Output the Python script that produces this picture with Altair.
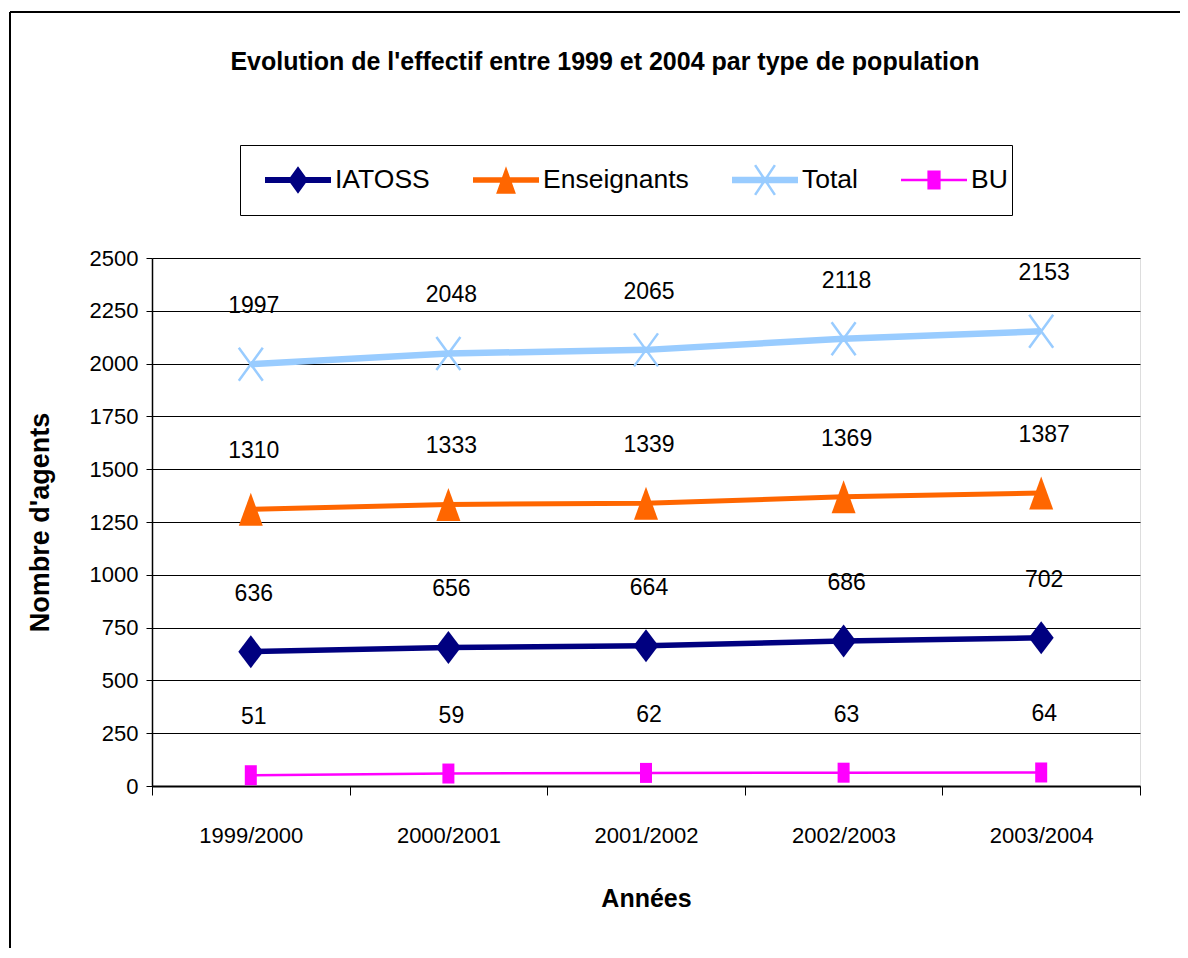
import altair as alt
import pandas as pd

# ---- data -------------------------------------------------------------
years = ["1999/2000", "2000/2001", "2001/2002", "2002/2003", "2003/2004"]
series = ["IATOSS", "Enseignants", "Total", "BU"]
iatoss = [636, 656, 664, 686, 702]
enseignants = [1310, 1333, 1339, 1369, 1387]
total = [1997, 2048, 2065, 2118, 2153]
bu = [51, 59, 62, 63, 64]
y_ticks = [0, 250, 500, 750, 1000, 1250, 1500, 1750, 2000, 2250, 2500]

colors = ["#000080", "#FF6600", "#99CCFF", "#FF00FF"]
line_widths = [5.5, 5, 6.5, 2.5]

rows = []
for s, vals in zip(series, [iatoss, enseignants, total, bu]):
    for yr, v in zip(years, vals):
        rows.append({"annee": yr, "serie": s, "valeur": v})
df = pd.DataFrame(rows)

FONT = "Liberation Sans, Arial, sans-serif"

# marker shapes in the plot (unit = 10 px with size 400)
marker_paths = {
    "IATOSS": "M0,-1.65L1.25,0L0,1.65L-1.25,0Z",
    "Enseignants": "M0,-1.65L1.2,1.65L-1.2,1.65Z",
    "Total": "M-1.2,-1.65L1.2,1.65M1.2,-1.65L-1.2,1.65",
    "BU": "M-0.6,-1L0.6,-1L0.6,1L-0.6,1Z",
}
marker_filled = {"IATOSS": True, "Enseignants": True, "Total": False, "BU": True}

# legend symbols: line + marker (unit = 33 px with size 4356)
legend_paths = [
    "M-1,-0.09L1,-0.09L1,0.09L-1,0.09ZM0,-0.42L0.3,0L0,0.42L-0.3,0Z",
    "M-1,-0.085L1,-0.085L1,0.085L-1,0.085ZM0,-0.42L0.3,0.42L-0.3,0.42Z",
    "M-1,-0.1L-1,0.1L1,0.1L1,-0.1Z"
    "M-0.332,-0.429L0.268,0.471L0.332,0.429L-0.268,-0.471Z"
    "M0.268,-0.471L-0.332,0.429L-0.268,0.471L0.332,-0.429Z",
    "M-1,-0.04L1,-0.04L1,0.04L-1,0.04ZM-0.2,-0.29L0.2,-0.29L0.2,0.29L-0.2,0.29Z",
]

x_enc = alt.X(
    "annee:N",
    sort=years,
    bandPosition=0.5,
    scale=alt.Scale(type="band", domain=years, paddingInner=0, paddingOuter=0),
    axis=alt.Axis(
        title="Années",
        tickBand="extent",
        grid=False,
        labelFont=FONT,
        labelFontSize=22,
        labelColor="black",
        labelPadding=30,
        labelAngle=0,
        tickSize=9,
        tickColor="black",
        domainColor="black",
        domainWidth=2,
        titleFont=FONT,
        titleFontSize=25,
        titleFontWeight="bold",
        titleColor="black",
        titlePadding=40,
    ),
)
y_enc = alt.Y(
    "valeur:Q",
    scale=alt.Scale(domain=[0, 2500], nice=False),
    axis=alt.Axis(
        title="Nombre d'agents",
        values=y_ticks,
        format="d",
        grid=True,
        gridColor="black",
        gridWidth=1,
        labelFont=FONT,
        labelFontSize=22,
        labelColor="black",
        labelPadding=8,
        tickSize=6,
        tickColor="black",
        domainColor="black",
        domainWidth=1.5,
        titleFont=FONT,
        titleFontSize=27,
        titleFontWeight="bold",
        titleColor="black",
        titlePadding=35,
    ),
)

color_scale = alt.Scale(domain=series, range=colors)

line_layers = []
point_layers = []
for s, c, w in zip(series, colors, line_widths):
    base = alt.Chart(df).transform_filter(alt.datum.serie == s)
    line_layers.append(
        base.mark_line(color=c, strokeWidth=w).encode(x=x_enc, y=y_enc)
    )
    filled = marker_filled[s]
    point_layers.append(
        base.mark_point(
            shape=marker_paths[s],
            size=400,
            filled=filled,
            color=c,
            opacity=1,
            strokeWidth=0 if filled else 2.5,
        ).encode(x=x_enc, y=y_enc)
    )

labels = alt.Chart(df).mark_text(
    font=FONT, fontSize=23, color="black", dy=-58, dx=3, baseline="middle", align="center"
).encode(x=x_enc, y=y_enc, text=alt.Text("valeur:Q", format="d"))

legend_cfg = alt.Legend(
    title=None,
    orient="none",
    legendX=88,
    legendY=-113,
    direction="horizontal",
    labelFont=FONT,
    labelFontSize=26.5,
    labelColor="black",
    symbolSize=4356,
    symbolStrokeWidth=0,
    symbolOffset=21,
    labelOffset=4,
    columnPadding=22,
    padding=4,
    strokeColor="black",
    fillColor="white",
    clipHeight=62,
)

legend_layer = (
    alt.Chart(df)
    .transform_filter("false")
    .mark_point(filled=True, size=4356, opacity=1, strokeWidth=0)
    .encode(
        x=x_enc,
        y=y_enc,
        color=alt.Color("serie:N", scale=color_scale, legend=legend_cfg),
        shape=alt.Shape(
            "serie:N", scale=alt.Scale(domain=series, range=legend_paths), legend=legend_cfg
        ),
    )
)

frame_df = pd.DataFrame({"k": [0]})
frame_v = alt.Chart(frame_df).mark_rule(color="black", strokeWidth=2).encode(
    x=alt.value(-142), y=alt.value(-246), y2=alt.value(800)
)
frame_h = alt.Chart(frame_df).mark_rule(color="black", strokeWidth=2).encode(
    x=alt.value(-142), x2=alt.value(1100), y=alt.value(-246)
)

chart = (
    alt.layer(*line_layers, *point_layers, labels, legend_layer, frame_v, frame_h)
    .properties(
        width=988,
        height=528,
        padding={"left": 144, "top": 250, "right": 40, "bottom": 162},
        autosize=alt.AutoSizeParams(type="none"),
        title=alt.TitleParams(
            text="Evolution de l'effectif entre 1999 et 2004 par type de population",
            font=FONT,
            fontSize=25,
            fontWeight="bold",
            color="black",
            anchor="middle",
            baseline="alphabetic",
            dx=-41,
            dy=84,
            offset=0,
        ),
    )
    .configure_view(stroke="#808080", strokeWidth=2)
    .configure(background="white")
)

chart.save("out.html", embed_options={"renderer": "svg", "actions": False})
